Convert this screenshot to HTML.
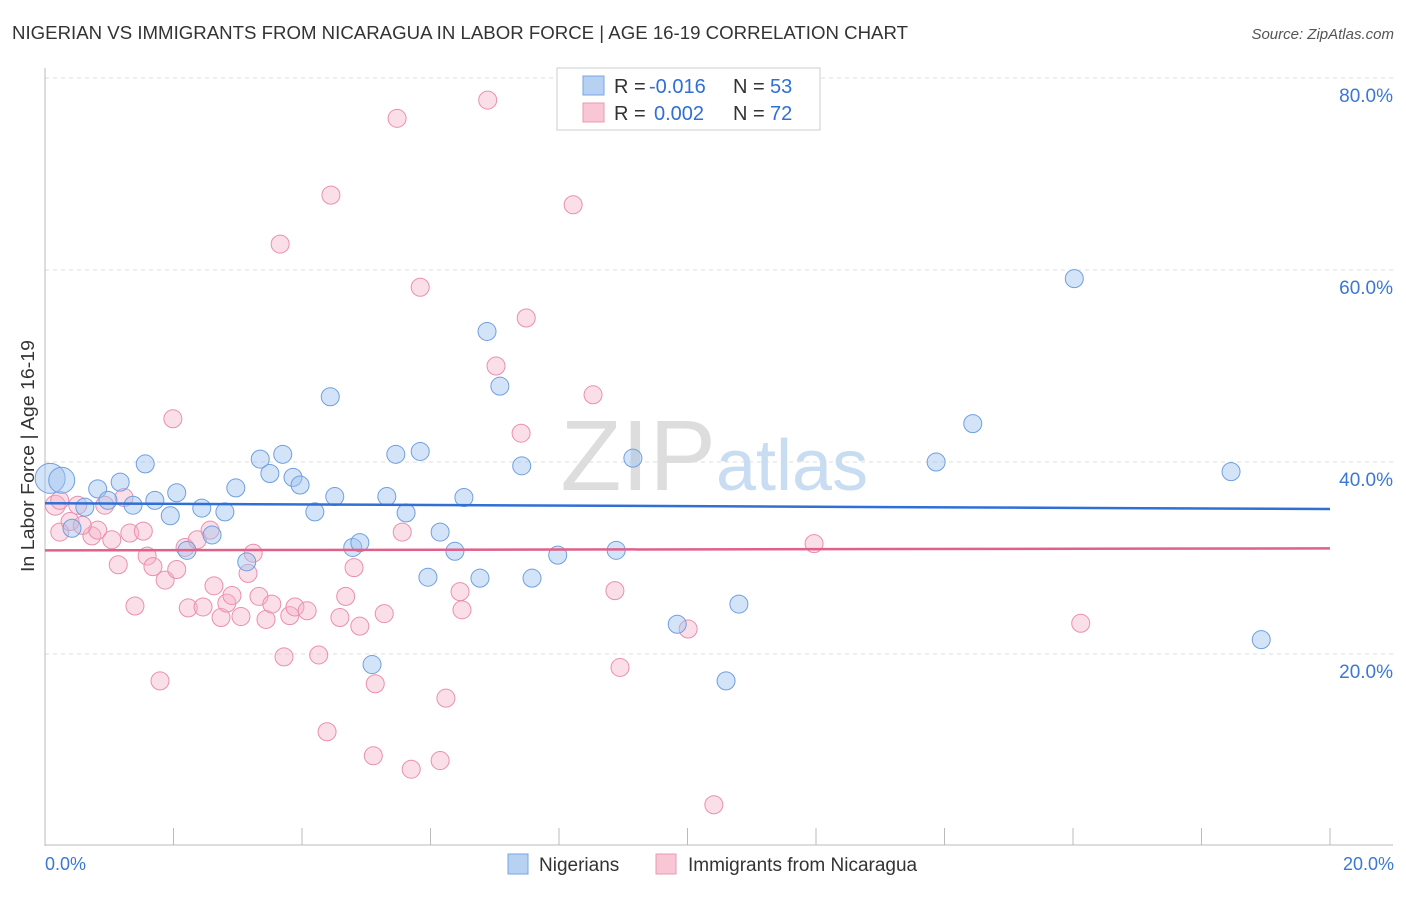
<!DOCTYPE html>
<html><head><meta charset="utf-8"><style>
body{margin:0;background:#fff;font-family:"Liberation Sans",sans-serif;}
svg text{font-family:"Liberation Sans",sans-serif;}
</style></head><body>
<svg id="chart" width="1406" height="892" xmlns="http://www.w3.org/2000/svg">
<text x="12" y="39" font-size="18" fill="#333" textLength="896" lengthAdjust="spacingAndGlyphs">NIGERIAN VS IMMIGRANTS FROM NICARAGUA IN LABOR FORCE | AGE 16-19 CORRELATION CHART</text>
<text x="1394" y="39" font-size="15" fill="#555" text-anchor="end" font-style="italic">Source: ZipAtlas.com</text>
<g id="grid"></g>
<text x="716" y="490" font-size="100" fill="#ddd" text-anchor="end" font-family="Liberation Serif">ZIP</text>
<text x="716" y="490" font-size="72" fill="#c8dcf2">atlas</text>
<line x1="45" y1="68" x2="45" y2="846" stroke="#bbb"/>
<line x1="45" y1="845" x2="1393" y2="845" stroke="#bbb"/>
<text x="34" y="456" font-size="18" fill="#333" text-anchor="middle" textLength="232" lengthAdjust="spacingAndGlyphs" transform="rotate(-90 34 456)">In Labor Force | Age 16-19</text>
<text x="45" y="870" font-size="18" fill="#3a78d4">0.0%</text>
<text x="1394" y="870" font-size="18" fill="#3a78d4" text-anchor="end">20.0%</text>
<g id="marks"></g>
<g>
<rect x="557" y="68" width="263" height="62" fill="#fff" stroke="#ccc"/>
<rect x="583" y="76" width="21" height="19" fill="#b7d1f3" stroke="#7aa5e3"/>
<rect x="583" y="103" width="21" height="19" fill="#f9c6d6" stroke="#ec98b3"/>
<text x="614" y="93" font-size="20" fill="#333">R =</text>
<text x="649" y="93" font-size="20" fill="#2f6fd6">-0.016</text>
<text x="733" y="93" font-size="20" fill="#333">N =</text>
<text x="770" y="93" font-size="20" fill="#2f6fd6">53</text>
<text x="614" y="120" font-size="20" fill="#333">R =</text>
<text x="654" y="120" font-size="20" fill="#2f6fd6">0.002</text>
<text x="733" y="120" font-size="20" fill="#333">N =</text>
<text x="770" y="120" font-size="20" fill="#2f6fd6">72</text>
</g>
<g>
<rect x="508" y="854" width="20" height="20" fill="#b7d1f3" stroke="#7aa5e3"/>
<text x="539" y="871" font-size="19" fill="#333">Nigerians</text>
<rect x="656" y="854" width="20" height="20" fill="#f9c6d6" stroke="#ec98b3"/>
<text x="688" y="871" font-size="19" fill="#333">Immigrants from Nicaragua</text>
</g>
</svg>
<script>
const yTicks=[20,40,60,80];
const yTickLabels=["20.0%","40.0%","60.0%","80.0%"];
const xTicks=[0,2,4,6,8,10,12,14,16,18,20];
const blueX=[0.08,0.26,0.82,1.17,1.56,1.71,1.95,2.05,2.44,2.60,2.80,2.97,3.35,3.50,3.70,3.86,3.97,4.20,4.51,4.44,4.79,4.90,5.09,5.32,5.46,5.62,5.84,5.96,6.15,6.38,6.52,6.77,6.88,7.08,7.42,7.58,7.98,8.89,9.15,9.84,10.60,10.80,13.87,14.44,16.02,18.46,18.93,0.42,0.98,1.37,2.21,3.14,0.62];
const blueY=[38.3,38.1,37.2,37.9,39.8,36.0,34.4,36.8,35.2,32.4,34.8,37.3,40.3,38.8,40.8,38.4,37.6,34.8,36.4,46.8,31.1,31.6,18.9,36.4,40.8,34.7,41.1,28.0,32.7,30.7,36.3,27.9,53.6,47.9,39.6,27.9,30.3,30.8,40.4,23.1,17.2,25.2,40.0,44.0,59.1,39.0,21.5,33.1,36.0,35.5,30.8,29.6,35.3];
const pinkX=[0.16,0.23,0.39,0.51,0.73,0.82,0.93,1.04,1.14,1.23,1.32,1.40,1.53,1.59,1.68,1.79,1.87,1.99,2.05,2.18,2.23,2.37,2.46,2.57,2.63,2.74,2.83,2.91,3.05,3.16,3.24,3.33,3.44,3.53,3.66,3.72,3.81,3.89,4.08,4.26,4.39,4.45,4.59,4.68,4.81,4.90,5.14,5.11,5.28,5.48,5.56,5.70,5.84,6.15,6.24,6.46,6.49,6.89,7.02,7.41,7.49,8.22,8.53,8.87,8.95,10.01,10.41,11.97,16.12,0.58,0.23];
const pinkY=[35.5,32.7,33.8,35.5,32.3,32.9,35.5,31.9,29.3,36.3,32.6,25.0,32.8,30.2,29.1,17.2,27.7,44.5,28.8,31.1,24.8,31.9,24.9,32.9,27.1,23.8,25.3,26.1,23.9,28.4,30.5,26.0,23.6,25.2,62.7,19.7,24.0,24.9,24.5,19.9,11.9,67.8,23.8,26.0,29.0,22.9,16.9,9.4,24.2,75.8,32.7,8.0,58.2,8.9,15.4,26.5,24.6,77.7,50.0,43.0,55.0,66.8,47.0,26.6,18.6,22.6,4.3,31.5,23.2,33.4,36.0];
const blueTrend=[35.7,35.1];
const pinkTrend=[30.8,31.0];
const NS='http://www.w3.org/2000/svg';
function xs(v){return 45+v*64.25;}
function ys(v){return 846-v*9.6;}
function mk(tag,attrs,parent){const e=document.createElementNS(NS,tag);for(const k in attrs)e.setAttribute(k,attrs[k]);parent.appendChild(e);return e;}
const grid=document.getElementById('grid');
yTicks.forEach((t,i)=>{
 const l=mk('line',{x1:45,x2:1393,y1:ys(t),y2:ys(t),stroke:'#ddd','stroke-dasharray':'4,4'},grid);
 
 
 const tx=mk('text',{x:1393,y:ys(t)+24,'font-size':19,fill:'#3a78d4','text-anchor':'end'},grid);
 tx.textContent=yTickLabels[i];
 
 
});
xTicks.forEach(t=>{
 const l=mk('line',{x1:xs(t),x2:xs(t),y1:828,y2:845,stroke:'#bbb'},grid);
 
 
});
const marks=document.getElementById('marks');
pinkX.forEach((x,i)=>{
 const c=mk('circle',{cx:xs(x),cy:ys(pinkY[i]),r:i==0?10:9,fill:'rgba(246,176,198,0.4)',stroke:'#eb8fae','stroke-width':1},marks);
 
 
});
blueX.forEach((x,i)=>{
 const c=mk('circle',{cx:xs(x),cy:ys(blueY[i]),r:i==0?15:(i==1?13:9),fill:'rgba(160,196,240,0.45)',stroke:'#6f9fe0','stroke-width':1},marks);
 
 
});
const bl=mk('line',{x1:xs(0),x2:xs(20),y1:ys(blueTrend[0]),y2:ys(blueTrend[1]),stroke:'#2f6fd6','stroke-width':2.5},marks);


const pl=mk('line',{x1:xs(0),x2:xs(20),y1:ys(pinkTrend[0]),y2:ys(pinkTrend[1]),stroke:'#e0608a','stroke-width':2.5},marks);


</script>
</body></html>
